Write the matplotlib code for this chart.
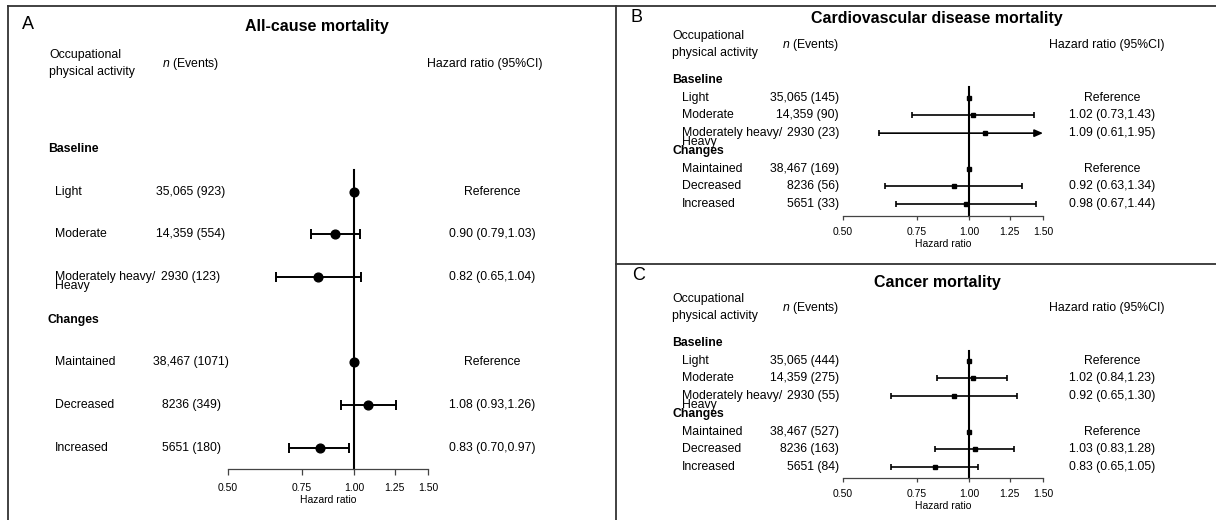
import matplotlib
matplotlib.use("Agg")
import matplotlib.pyplot as plt
import matplotlib.transforms as mtransforms
from matplotlib.lines import Line2D
from matplotlib.ticker import NullLocator

plt.rcParams['font.family'] = ['Liberation Sans', 'DejaVu Sans']
plt.rcParams['mathtext.fontset'] = 'custom'
plt.rcParams['mathtext.rm'] = 'Liberation Sans'
plt.rcParams['mathtext.it'] = 'Liberation Sans:italic'

W, H = 1216, 520

# ---- data ----
group_names = ['Baseline', 'Changes']
categories = ['Light', 'Moderate', 'Moderately heavy/\nHeavy',
              'Maintained', 'Decreased', 'Increased']
is_reference = [True, False, False, True, False, False]

allcause_n = ['35,065 (923)', '14,359 (554)', '2930 (123)',
              '38,467 (1071)', '8236 (349)', '5651 (180)']
allcause_hr = [1.00, 0.90, 0.82, 1.00, 1.08, 0.83]
allcause_lo = [1.00, 0.79, 0.65, 1.00, 0.93, 0.70]
allcause_hi = [1.00, 1.03, 1.04, 1.00, 1.26, 0.97]

cvd_n = ['35,065 (145)', '14,359 (90)', '2930 (23)',
         '38,467 (169)', '8236 (56)', '5651 (33)']
cvd_hr = [1.00, 1.02, 1.09, 1.00, 0.92, 0.98]
cvd_lo = [1.00, 0.73, 0.61, 1.00, 0.63, 0.67]
cvd_hi = [1.00, 1.43, 1.95, 1.00, 1.34, 1.44]

cancer_n = ['35,065 (444)', '14,359 (275)', '2930 (55)',
            '38,467 (527)', '8236 (163)', '5651 (84)']
cancer_hr = [1.00, 1.02, 0.92, 1.00, 1.03, 0.83]
cancer_lo = [1.00, 0.84, 0.65, 1.00, 0.83, 0.65]
cancer_hi = [1.00, 1.23, 1.30, 1.00, 1.28, 1.05]

xticks = [0.50, 0.75, 1.00, 1.25, 1.50]
xtick_labels = ['0.50', '0.75', '1.00', '1.25', '1.50']

group_rows = [2, 6]
cat_rows = [3, 4, 5, 7, 8, 9]

# layout of each panel in pixels
panels = [
    dict(letter='A', title='All-cause mortality', n=allcause_n, hr=allcause_hr,
         lo=allcause_lo, hi=allcause_hi,
         row0=63.7, step=42.67, axis_row=9.5, vtop=2.49, x05=228, x15=428,
         head_x=49, group_x=48, label_x=55, n_x=191, n_ha='center',
         hr_x=492, hr_head_x=485, letter_xy=(28, 24), title_xy=(317, 26),
         marker='o', ms=6.3, cap=3.6, lw=1.4, tlen=4.3, tpad=6.0),
    dict(letter='B', title='Cardiovascular disease mortality', n=cvd_n, hr=cvd_hr,
         lo=cvd_lo, hi=cvd_hi,
         row0=44.6, step=17.71, axis_row=9.68, vtop=2.4, x05=843, x15=1043,
         head_x=672, group_x=672, label_x=682, n_x=839, n_ha='right',
         hr_x=1112, hr_head_x=1107, letter_xy=(636, 18), title_xy=(937, 18),
         marker='s', ms=2.8, cap=2.5, lw=1.2, tlen=3.0, tpad=5.0),
    dict(letter='C', title='Cancer mortality', n=cancer_n, hr=cancer_hr,
         lo=cancer_lo, hi=cancer_hi,
         row0=307.6, step=17.71, axis_row=9.62, vtop=2.45, x05=843, x15=1043,
         head_x=672, group_x=672, label_x=682, n_x=839, n_ha='right',
         hr_x=1112, hr_head_x=1107, letter_xy=(639, 275), title_xy=(937, 282),
         marker='s', ms=2.8, cap=2.5, lw=1.2, tlen=3.0, tpad=5.0),
]

fig = plt.figure(figsize=(W / 100, H / 100), dpi=100)

# panel frame lines
frame = '#333333'
fig.add_artist(Line2D([8 / W, 1], [1 - 6 / H] * 2, transform=fig.transFigure, color=frame, lw=1.3))
fig.add_artist(Line2D([8 / W] * 2, [0, 1 - 6 / H], transform=fig.transFigure, color=frame, lw=1.3))
fig.add_artist(Line2D([616 / W] * 2, [0, 1 - 6 / H], transform=fig.transFigure, color=frame, lw=1.3))
fig.add_artist(Line2D([616 / W, 1], [1 - 264 / H] * 2, transform=fig.transFigure, color=frame, lw=1.3))

fs = 8.8
for p in panels:
    axis_y = p['row0'] + p['axis_row'] * p['step']
    ax = fig.add_axes([p['x05'] / W, 1 - axis_y / H,
                       (p['x15'] - p['x05']) / W, (axis_y - p['row0']) / H])
    ax.set_xscale('log')
    ax.set_xlim(0.5, 1.5)
    ax.set_ylim(p['axis_row'], 0)
    ax.patch.set_alpha(0)
    for s in ['left', 'right', 'top']:
        ax.spines[s].set_visible(False)
    ax.spines['bottom'].set_color('#444444')
    ax.spines['bottom'].set_linewidth(0.9)
    ax.set_yticks([])
    ax.set_xticks(xticks)
    ax.set_xticklabels(xtick_labels)
    ax.xaxis.set_minor_locator(NullLocator())
    ax.tick_params(axis='x', direction='out', length=p['tlen'], width=0.9,
                   color='#444444', pad=p['tpad'], labelsize=7.5)
    ax.set_xlabel('Hazard ratio', fontsize=7.5, labelpad=1.5)

    # line of no effect
    ax.plot([1, 1], [p['vtop'], p['axis_row']], color='black', lw=1.5, clip_on=False)

    for i, row in enumerate(cat_rows):
        est, lo, hi = p['hr'][i], p['lo'][i], p['hi'][i]
        if is_reference[i]:
            ax.plot(est, row, p['marker'], ms=p['ms'], color='black', clip_on=False)
        elif hi > 1.5:
            ax.annotate('', xy=(1.5, row), xytext=(lo, row),
                        arrowprops=dict(arrowstyle='-|>,head_length=0.5,head_width=0.22',
                                        color='black', lw=p['lw'], shrinkA=0, shrinkB=0))
            ax.plot(lo, row, '|', ms=p['cap'] * 2, mew=p['lw'], color='black')
            ax.plot(est, row, p['marker'], ms=p['ms'], color='black')
        else:
            ax.errorbar(est, row, xerr=[[est - lo], [hi - est]], fmt=p['marker'],
                        ms=p['ms'], color='black', ecolor='black', elinewidth=p['lw'],
                        capsize=p['cap'], capthick=p['lw'], clip_on=False)

    # text columns: x in figure pixels, y in row units
    tr = mtransforms.blended_transform_factory(fig.transFigure, ax.transData)
    tr_two = mtransforms.offset_copy(tr, fig=fig, y=-4.5, units='dots')

    fig.text(p['letter_xy'][0] / W, 1 - p['letter_xy'][1] / H, p['letter'],
             fontsize=13, ha='center', va='center')
    fig.text(p['title_xy'][0] / W, 1 - p['title_xy'][1] / H, p['title'],
             fontsize=11.5, fontweight='bold', ha='center', va='center')

    ax.text(p['head_x'] / W, 0, 'Occupational\nphysical activity', transform=tr,
            fontsize=fs, ha='left', va='center', linespacing=1.55)
    ax.text(p['n_x'] / W, 0, r'$\mathit{n}$ (Events)', transform=tr,
            fontsize=fs, ha=p['n_ha'], va='center')
    ax.text(p['hr_head_x'] / W, 0, 'Hazard ratio (95%CI)', transform=tr,
            fontsize=fs, ha='center', va='center')

    for g, row in zip(group_names, group_rows):
        ax.text(p['group_x'] / W, row, g, transform=tr, fontsize=fs,
                fontweight='bold', ha='left', va='center')

    for i, row in enumerate(cat_rows):
        lab = categories[i]
        if '\n' in lab:
            ax.text(p['label_x'] / W, row, lab, transform=tr_two, fontsize=fs,
                    ha='left', va='center', linespacing=0.65)
        else:
            ax.text(p['label_x'] / W, row, lab, transform=tr, fontsize=fs,
                    ha='left', va='center')
        ax.text(p['n_x'] / W, row, p['n'][i], transform=tr, fontsize=fs,
                ha=p['n_ha'], va='center')
        if is_reference[i]:
            hr_txt = 'Reference'
        else:
            hr_txt = f"{p['hr'][i]:.2f} ({p['lo'][i]:.2f},{p['hi'][i]:.2f})"
        ax.text(p['hr_x'] / W, row, hr_txt, transform=tr, fontsize=fs,
                ha='center', va='center')

fig.savefig('out.png', dpi=100)
